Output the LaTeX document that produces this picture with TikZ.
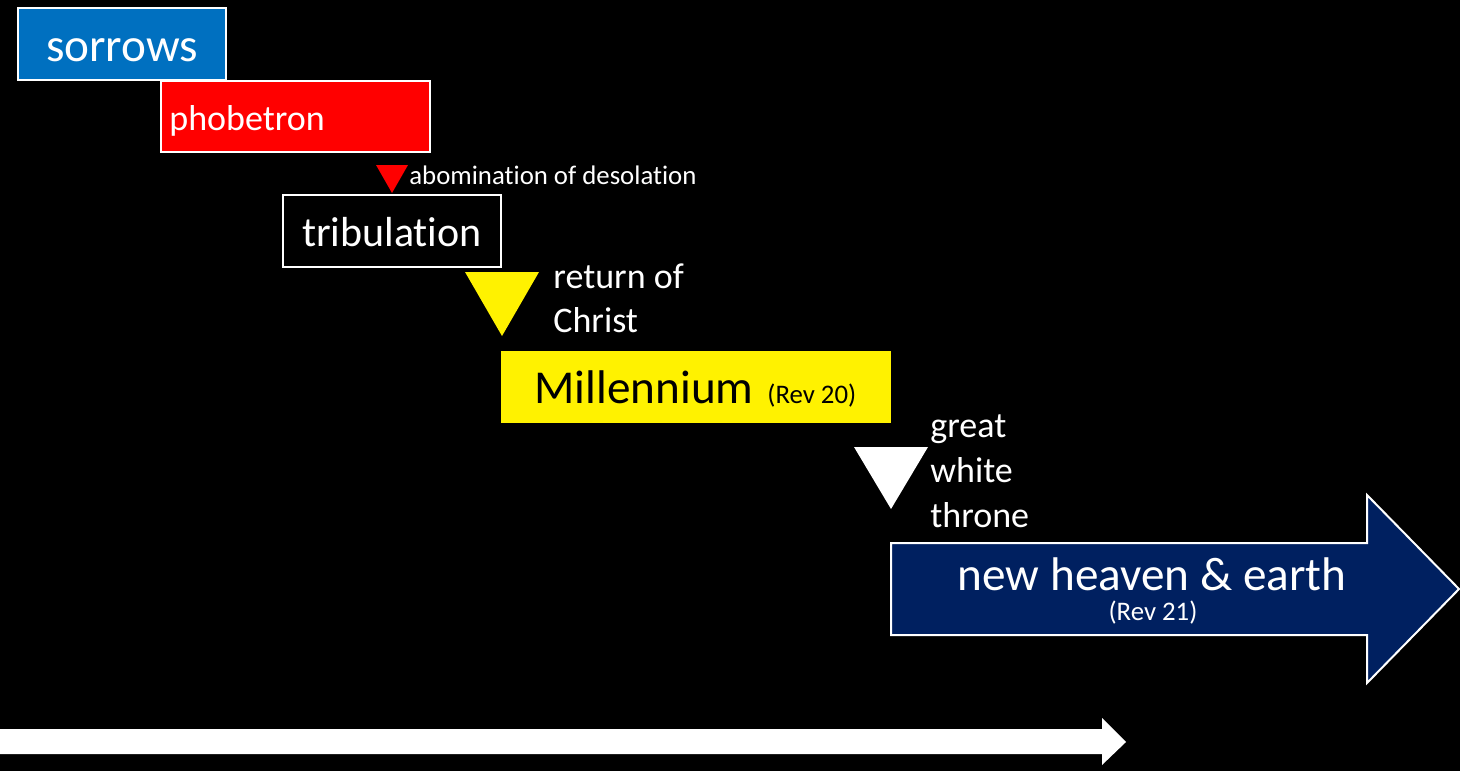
\documentclass[tikz,border=0pt]{standalone}
\usepackage{fontspec}
\setmainfont[Ligatures=NoCommon]{Carlito}
\definecolor{sorrowblue}{RGB}{0,112,192}
\definecolor{navy}{RGB}{0,32,96}

\begin{document}
\begin{tikzpicture}[x=0.5pt,y=-0.5pt,
  lbl/.style={text=white,inner sep=0pt},
  hugefont/.style={font=\fontsize{23.6}{28}\selectfont},
  tribfont/.style={font=\fontsize{21}{25}\selectfont},
  midfont/.style={font=\fontsize{18}{22}\selectfont},
  smallfont/.style={font=\fontsize{13.4}{16}\selectfont},
  framed/.style={draw=white,line width=1pt}]

% background:
\useasboundingbox[fill=black] (0,0) rectangle (1460,771);

% boxes:
\path[framed,fill=sorrowblue] (18,8) rectangle (226,80);
\path[framed,fill=red] (161,81) rectangle (430,152);
\path[framed,fill=black] (283,195) rectangle (501,267);
\path[fill=yellow] (501,351) rectangle (891,423);
\path[framed,fill=navy,line join=miter] (891,543) -- (1367,543) -- (1367,495) -- (1459,589)
  -- (1367,683) -- (1367,635) -- (891,635) -- cycle;

% markers:
\path[fill=red] (376,165) -- (408,165) -- (392,193) -- cycle;
\path[fill=yellow] (465,272) -- (539,272) -- (502,336) -- cycle;
\path[fill=white] (854,447) -- (928,447) -- (891,509) -- cycle;

% time line:
\path[fill=white] (0,729) -- (1102,729) -- (1102,718) -- (1126,742) -- (1102,765)
  -- (1102,754) -- (0,754) -- cycle;

% labels:
\path (122,61) node (sorrows) [lbl,hugefont,anchor=base] {sorrows};
\path (169,130) node (phobetron) [lbl,midfont,anchor=base west] {phobetron};
\path (409,184) node (abomination) [lbl,smallfont,anchor=base west] {abomination of desolation};
\path (392,246) node (tribulation) [lbl,tribfont,anchor=base] {tribulation};
\path (553,288) node (returnof) [lbl,midfont,anchor=base west] {return of};
\path (553,332) node (christ) [lbl,midfont,anchor=base west] {Christ};
\path (534,403) node (millennium) [lbl,text=black,hugefont,anchor=base west] {Millennium};
\path (767,403) node (revtwenty) [lbl,text=black,smallfont,anchor=base west] {(Rev 20)};
\path (930,437) node (great) [lbl,midfont,anchor=base west] {great};
\path (930,482) node (white) [lbl,midfont,anchor=base west] {white};
\path (930,527) node (throne) [lbl,midfont,anchor=base west] {throne};
\path (1152,590) node (newheaven) [lbl,hugefont,anchor=base] {new heaven \& earth};
\path (1153,620) node (revtwentyone) [lbl,smallfont,anchor=base] {(Rev 21)};

\end{tikzpicture}
\end{document}
